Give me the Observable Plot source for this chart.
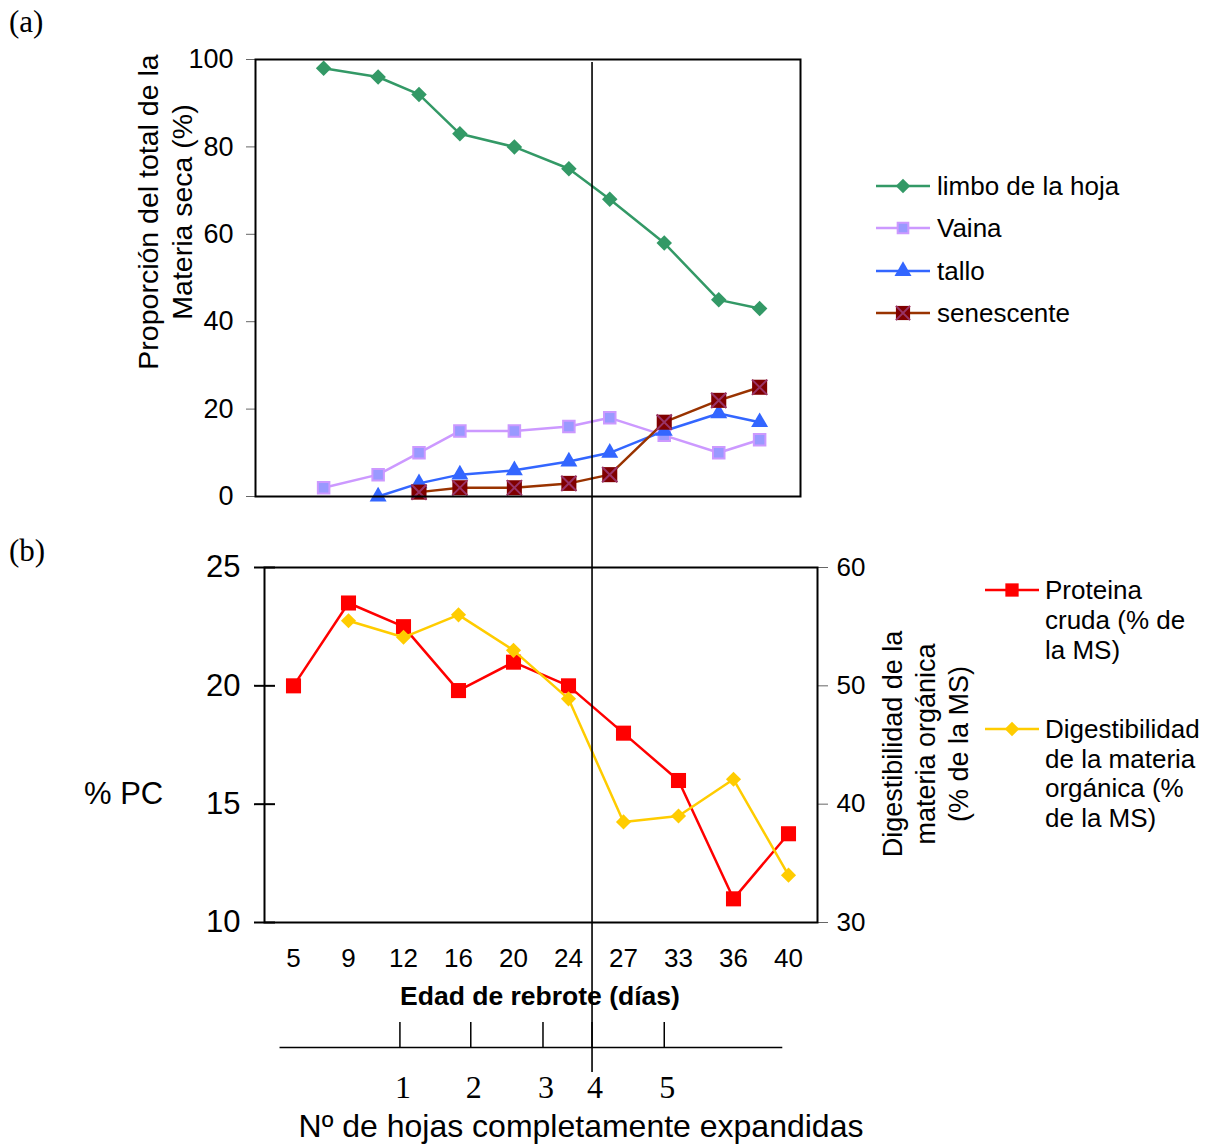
<!DOCTYPE html>
<html><head><meta charset="utf-8">
<script src="https://cdn.jsdelivr.net/npm/d3@7"></script>
<script src="https://cdn.jsdelivr.net/npm/@observablehq/plot@0.6"></script>
<style>
body{margin:0;background:#fff;}
#root{position:relative;width:1212px;height:1144px;overflow:hidden;background:#fff;font-family:"Liberation Sans",Arial,sans-serif;color:#000;}
#root > svg{position:absolute;left:0;}
.lbl{position:absolute;white-space:nowrap;}
</style></head><body><div id="root"></div>
<script>
// ---------- data: panel (a) ----------
const diasA = [5, 9, 12, 15, 19, 23, 26, 30, 34, 37];
const limbo = [98, 96, 92, 83, 80, 75, 68, 58, 45, 43];
const vaina = [2, 5, 10, 15, 15, 16, 18, 14, 10, 13];
const tallo = [null, 0, 3, 5, 6, 8, 10, 15, 19, 17];
const senescente = [null, null, 1, 2, 2, 3, 5, 17, 22, 25];
const ticksA = [0, 20, 40, 60, 80, 100];
const seriesA = ["limbo de la hoja", "Vaina", "tallo", "senescente"];

// ---------- data: panel (b) ----------
const diasB = [5, 9, 12, 16, 20, 24, 27, 33, 36, 40];
const proteina = [20.0, 23.5, 22.5, 19.8, 21.0, 20.0, 18.0, 16.0, 11.0, 13.75];
const digestibilidad = [null, 55.5, 54.1, 56.0, 53.0, 48.9, 38.5, 39.0, 42.1, 34.0];
const ticksPC = [10, 15, 20, 25];
const ticksDig = [30, 40, 50, 60];

// ---------- data: leaves axis ----------
const hojas = ["1", "2", "3", "4", "5"];
const hojasDias = [10.6, 15.8, 21.1, 24.7, 30.0];
const ejeHojas = [1.8, 38.7];

const SANS = '"Liberation Sans", Arial, sans-serif';
const SERIF = '"Liberation Serif", "Times New Roman", serif';
const root = document.getElementById("root");

const C = {
  limbo: "#339966", vainaLine: "#CC99FF", vainaFill: "#9999FF",
  tallo: "#3366FF", senLine: "#993300", senFill: "#800000", senX: "#993366",
  pc: "#FF0000", dig: "#FFCC00"
};

function place(svg, top) { svg.style.top = top + "px"; root.appendChild(svg); }

// ---------- panel (a) ----------
const rowsA = vals => diasA.map((d, i) => ({dia: d, v: vals[i]})).filter(r => r.v != null);
const plotA = Plot.plot({
  width: 820, height: 520,
  marginLeft: 255, marginRight: 20, marginTop: 59, marginBottom: 24,
  style: {fontFamily: SANS, fontSize: "27px", background: "transparent", color: "#000"},
  x: {domain: [0, 40], axis: null},
  y: {domain: [0, 100], label: null},
  marks: [
    Plot.axisY({ticks: ticksA, tickSize: 9, tickPadding: 13, stroke: "#666", fontSize: 27, label: null}),
    Plot.line(rowsA(limbo), {x: "dia", y: "v", stroke: C.limbo, strokeWidth: 2.5}),
    Plot.line(rowsA(vaina), {x: "dia", y: "v", stroke: C.vainaLine, strokeWidth: 2.5}),
    Plot.line(rowsA(tallo), {x: "dia", y: "v", stroke: C.tallo, strokeWidth: 2.5}),
    Plot.line(rowsA(senescente), {x: "dia", y: "v", stroke: C.senLine, strokeWidth: 2.5}),
    Plot.dot(rowsA(limbo), {x: "dia", y: "v", symbol: "diamond2", r: 7, fill: C.limbo}),
    Plot.dot(rowsA(vaina), {x: "dia", y: "v", symbol: "square", r: 6.5, fill: C.vainaFill, stroke: C.vainaLine, strokeWidth: 2}),
    Plot.dot(rowsA(tallo), {x: "dia", y: "v", symbol: "triangle", r: 6.3, fill: C.tallo}),
    Plot.dot(rowsA(senescente), {x: "dia", y: "v", symbol: "square", r: 8.5, fill: C.senFill}),
    Plot.dot(rowsA(senescente), {x: "dia", y: "v", symbol: "times", r: 7, stroke: C.senX, strokeWidth: 2}),
    Plot.frame({stroke: "#000", strokeWidth: 2})
  ]
});
place(plotA, 0);

// ---------- panel (b) ----------
const toIzq = v => 10 + (v - 30) / 2;
const rowsB = diasB.map((d, i) => ({dia: d, pc: proteina[i], dig: digestibilidad[i]}));
const rowsDig = rowsB.filter(r => r.dig != null);
const plotB = Plot.plot({
  width: 900, height: 460,
  marginLeft: 264, marginRight: 83, marginTop: 27, marginBottom: 78,
  style: {fontFamily: SANS, fontSize: "26px", background: "transparent", color: "#000"},
  x: {type: "point", domain: diasB, padding: 0.5, label: null},
  y: {domain: [10, 25], label: null},
  marks: [
    Plot.axisX({tickSize: 0, tickPadding: 26, fontSize: 26, label: null}),
    Plot.axisY({ticks: ticksPC, tickSize: 10, tickPadding: 14, stroke: "#000", strokeWidth: 2, fontSize: 31, label: null}),
    Plot.axisY({ticks: ticksPC, tickSize: 11, dx: 11, stroke: "#000", strokeWidth: 2, tickFormat: () => "", label: null}),
    Plot.axisY(ticksDig, {y: toIzq, anchor: "right", tickSize: 10, tickPadding: 9, stroke: "#666", fontSize: 26, tickFormat: d => String(d), label: null}),
    Plot.line(rowsB, {x: "dia", y: "pc", stroke: C.pc, strokeWidth: 2.5}),
    Plot.dot(rowsB, {x: "dia", y: "pc", symbol: "square", r: 8.5, fill: C.pc}),
    Plot.line(rowsDig, {x: "dia", y: d => toIzq(d.dig), stroke: C.dig, strokeWidth: 2.5}),
    Plot.dot(rowsDig, {x: "dia", y: d => toIzq(d.dig), symbol: "diamond2", r: 6.8, fill: C.dig}),
    Plot.frame({stroke: "#000", strokeWidth: 2})
  ]
});
place(plotB, 540);

// ---------- leaves axis ----------
const plotH = Plot.plot({
  width: 820, height: 144,
  marginLeft: 255, marginRight: 20, marginTop: 22, marginBottom: 97,
  style: {fontFamily: SERIF, fontSize: "32px", background: "transparent", color: "#000", overflow: "visible"},
  x: {domain: [0, 40], axis: null},
  y: {domain: [0, 1], axis: null},
  marks: [
    Plot.ruleY([{y: 0, a: ejeHojas[0], b: ejeHojas[1]}], {y: "y", x1: "a", x2: "b", stroke: "#000", strokeWidth: 1.5}),
    Plot.ruleX(hojasDias, {stroke: "#000", strokeWidth: 1.5}),
    Plot.text(hojasDias, {x: d => d, text: (d, i) => hojas[i], frameAnchor: "bottom", dy: 50, dx: 3, fontSize: 32, fontFamily: SERIF, fill: "#000"})
  ]
});
place(plotH, 1000);

// ---------- vertical reference line (4 leaves) ----------
const plotV = Plot.plot({
  width: 820, height: 1144,
  marginLeft: 255, marginRight: 20, marginTop: 62, marginBottom: 72,
  style: {background: "transparent"},
  x: {domain: [0, 40], axis: null},
  marks: [Plot.ruleX([hojasDias[3]], {stroke: "#000", strokeWidth: 1.6})]
});
place(plotV, 0);

// ---------- text ----------
function label(html, {x, y, size = 26, anchor = "start", weight = "normal", family = SANS, rotate = 0, lh = null, align = "left"}) {
  const d = document.createElement("div");
  d.className = "lbl";
  d.innerHTML = html;
  d.style.left = x + "px";
  d.style.top = y + "px";
  d.style.fontSize = size + "px";
  d.style.fontWeight = weight;
  d.style.fontFamily = family;
  d.style.lineHeight = (lh || size) + "px";
  d.style.textAlign = align;
  const tx = anchor === "middle" ? "-50%" : anchor === "end" ? "-100%" : "0";
  d.style.transform = `translate(${tx},-50%)` + (rotate ? ` rotate(${rotate}deg)` : "");
  root.appendChild(d);
  return d;
}
label("(a)", {x: 9, y: 21, size: 31, family: SERIF});
label("(b)", {x: 9, y: 550, size: 31, family: SERIF});
label("Proporción del total de la<br>Materia seca (%)", {x: 165, y: 212, size: 28.5, anchor: "middle", rotate: -90, lh: 34, align: "center"});
label("% PC", {x: 84, y: 793, size: 31});
label("Digestibilidad de la<br>materia orgánica<br>(% de la MS)", {x: 926, y: 744, size: 27, anchor: "middle", rotate: -90, lh: 33, align: "center"});
label("Edad de rebrote (días)", {x: 540, y: 996, anchor: "middle", weight: "bold", size: 26.5});
label("Nº de hojas completamente expandidas", {x: 581, y: 1126, anchor: "middle", size: 32});

// ---------- legends ----------
function legendIcon(x, y, color, draw) {
  const svg = d3.create("svg").attr("width", 60).attr("height", 24)
    .style("position", "absolute").style("left", (x - 30) + "px").style("top", (y - 12) + "px").style("overflow", "visible");
  svg.append("line").attr("x1", 3).attr("x2", 57).attr("y1", 12).attr("y2", 12).attr("stroke", color).attr("stroke-width", 2.5);
  const g = svg.append("g").attr("transform", "translate(30,12)");
  draw(g);
  root.appendChild(svg.node());
}
const sym = (type, r) => d3.symbol(type, Math.PI * r * r)();
const legA = [
  {name: seriesA[0], color: C.limbo, draw: g => g.append("path").attr("d", sym(d3.symbolDiamond2, 6.5)).attr("fill", C.limbo)},
  {name: seriesA[1], color: C.vainaLine, draw: g => g.append("path").attr("d", sym(d3.symbolSquare, 6)).attr("fill", C.vainaFill).attr("stroke", C.vainaLine).attr("stroke-width", 2)},
  {name: seriesA[2], color: C.tallo, draw: g => g.append("path").attr("d", sym(d3.symbolTriangle, 6.3)).attr("fill", C.tallo)},
  {name: seriesA[3], color: C.senLine, draw: g => { g.append("path").attr("d", sym(d3.symbolSquare, 8)).attr("fill", C.senFill); g.append("path").attr("d", sym(d3.symbolTimes, 6.5)).attr("stroke", C.senX).attr("stroke-width", 2).attr("fill", "none"); }}
];
const legAy = [186, 228, 271, 313];
legA.forEach((it, i) => {
  legendIcon(903, legAy[i], it.color, it.draw);
  label(it.name, {x: 937, y: legAy[i]});
});
legendIcon(1012, 590, C.pc, g => g.append("path").attr("d", sym(d3.symbolSquare, 7.5)).attr("fill", C.pc));
label("Proteina<br>cruda (% de<br>la MS)", {x: 1045, y: 620, lh: 30});
legendIcon(1012, 729, C.dig, g => g.append("path").attr("d", sym(d3.symbolDiamond2, 6.5)).attr("fill", C.dig));
label("Digestibilidad<br>de la materia<br>orgánica (%<br>de la MS)", {x: 1045, y: 774, lh: 29.5});
</script></body></html>
